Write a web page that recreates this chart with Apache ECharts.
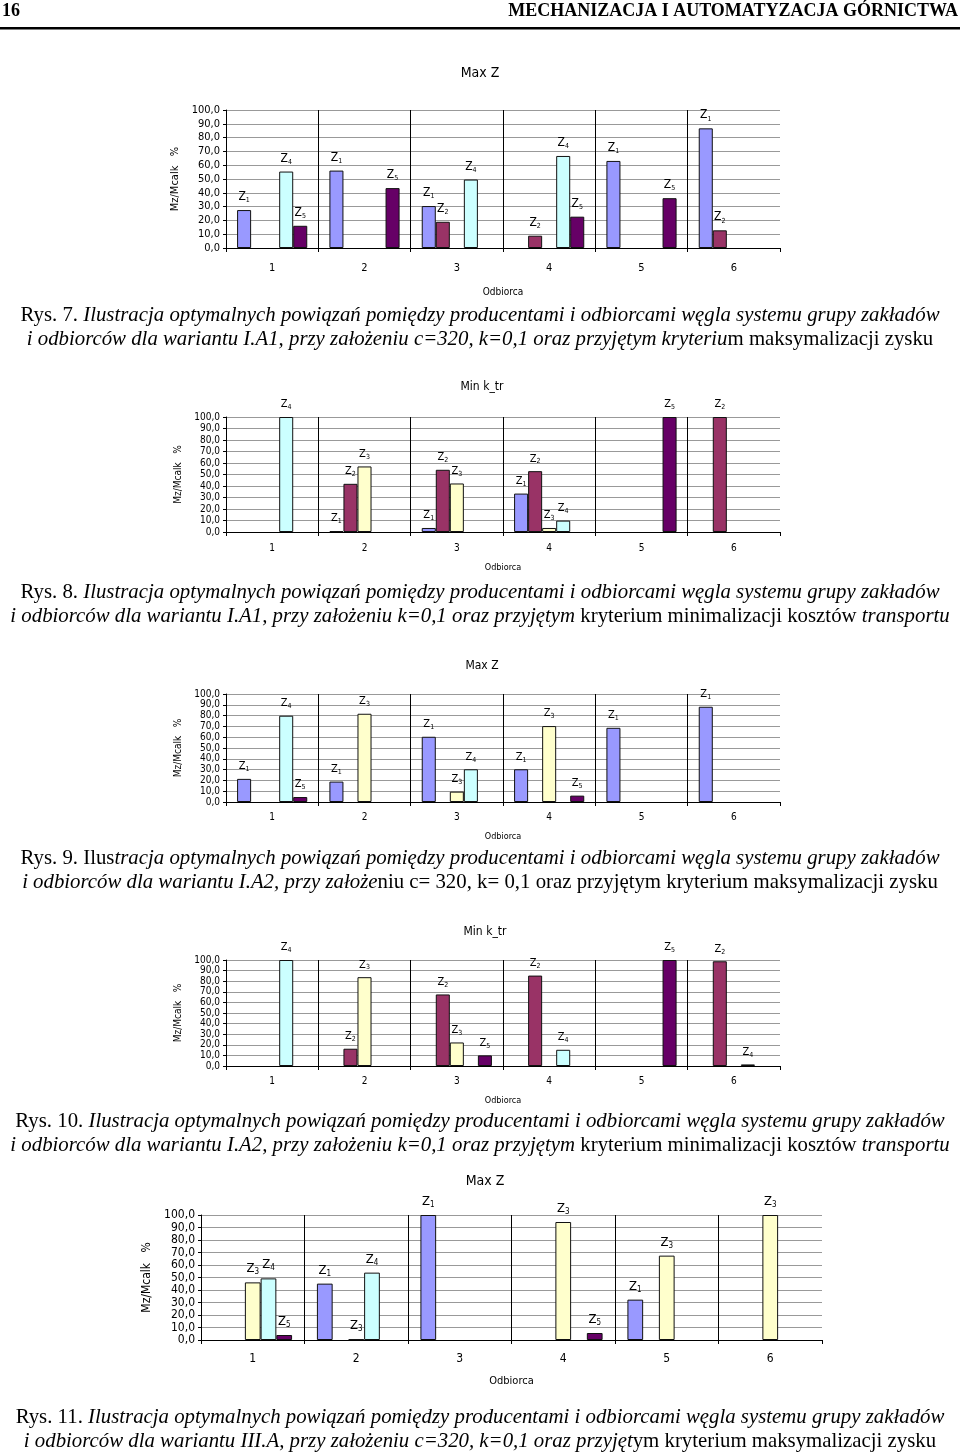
<!DOCTYPE html>
<html>
<head>
<meta charset="utf-8">
<script src="https://cdn.jsdelivr.net/npm/echarts@6/dist/echarts.min.js"></script>
<style>
html,body{margin:0;padding:0;background:#fff;}
#main{width:960px;height:1455px;}
</style>
</head>
<body>
<div id="main"></div>
<script>
// ---------- DATA ----------
const categories = ['1', '2', '3', '4', '5', '6'];
const seriesNames = ['1', '2', '3', '4', '5']; // producers Z1..Z5
const yTicks = { min: 0, max: 100, interval: 10 };

// Rys. 7 — Max Z (I.A1, c=320, k=0,1)
const r7_z1 = [27.5, 56.1, 30.4, null, 63.1, 86.7];
const r7_z2 = [null, null, 19.0, 8.9, null, 12.8];
const r7_z3 = [null, null, null, null, null, null];
const r7_z4 = [55.4, null, 49.6, 66.7, null, null];
const r7_z5 = [16.1, 43.4, null, 22.7, 36.1, null];

// Rys. 8 — Min k_tr (I.A1, k=0,1)
const r8_z1 = [null, 0.8, 3.5, 33.4, null, null];
const r8_z2 = [null, 41.9, 54.1, 52.9, null, 100];
const r8_z3 = [null, 57.0, 42.2, 3.5, null, null];
const r8_z4 = [100, null, null, 9.9, null, null];
const r8_z5 = [null, null, null, null, 100, null];

// Rys. 9 — Max Z (I.A2, c=320, k=0,1)
const r9_z1 = [21.4, 18.9, 60.4, 30.3, 68.7, 88.2];
const r9_z2 = [null, null, null, null, null, null];
const r9_z3 = [null, 81.7, 9.6, 70.3, null, null];
const r9_z4 = [79.9, null, 30.3, null, null, null];
const r9_z5 = [4.6, null, null, 5.9, null, null];

// Rys. 10 — Min k_tr (I.A2, k=0,1)
const r10_z1 = [null, null, null, null, null, null];
const r10_z2 = [null, 16.3, 67.5, 85.3, null, 98.8];
const r10_z3 = [null, 83.8, 22.2, null, null, null];
const r10_z4 = [100, null, null, 15.3, null, 1.5];
const r10_z5 = [null, null, 10.0, null, 100, null];

// Rys. 11 — Max Z (III.A, c=320, k=0,1)
const r11_z1 = [null, 45.1, 100, null, 32.3, null];
const r11_z2 = [null, null, null, null, null, null];
const r11_z3 = [46.1, 0.5, null, 94.4, 67.5, 100];
const r11_z4 = [49.3, 53.9, null, null, null, null];
const r11_z5 = [4.0, null, null, 5.6, null, null];

const chartTitles = ['Max Z', 'Min k_tr', 'Max Z', 'Min k_tr', 'Max Z'];
const yAxisName = 'Mz/Mcalk   %';
const xAxisName = 'Odbiorca';

// captions: [text, italic?] segments per line
const captions = [
  [[['Rys. 7. ', 0], ['Ilustracja optymalnych powiązań pomiędzy producentami i odbiorcami węgla systemu grupy zakładów', 1]],
   [['i odbiorców dla wariantu I.A1, przy założeniu c=320, k=0,1 oraz przyjętym kryteriu', 1], ['m maksymalizacji zysku', 0]]],
  [[['Rys. 8. ', 0], ['Ilustracja optymalnych powiązań pomiędzy producentami i odbiorcami węgla systemu grupy zakładów', 1]],
   [['i odbiorców dla wariantu I.A1, przy założeniu k=0,1 oraz przyjętym', 1], [' kryterium minimalizacji kosztów ', 0], ['transportu', 1]]],
  [[['Rys. 9. Ilus', 0], ['tracja optymalnych powiązań pomiędzy producentami i odbiorcami węgla systemu grupy zakładów', 1]],
   [['i odbiorców dla wariantu I.A2, przy założe', 1], ['niu c= 320, k= 0,1 oraz przyjętym kryterium maksymalizacji zysku', 0]]],
  [[['Rys. 10. ', 0], ['Ilustracja optymalnych powiązań pomiędzy producentami i odbiorcami węgla systemu grupy zakładów', 1]],
   [['i odbiorców dla wariantu I.A2, przy założeniu k=0,1 oraz przyjętym', 1], [' kryterium minimalizacji kosztów ', 0], ['transportu', 1]]],
  [[['Rys. 11. ', 0], ['Ilustracja optymalnych powiązań pomiędzy producentami i odbiorcami węgla systemu grupy zakładów', 1]],
   [['i odbiorców dla wariantu III.A, przy założeniu c=320, k=0,1 oraz przyjęt', 1], ['ym kryterium maksymalizacji zysku', 0]]]
];
const headerLeft = '16';
const headerRight = 'MECHANIZACJA I AUTOMATYZACJA GÓRNICTWA';

const chartData = [
  [r7_z1, r7_z2, r7_z3, r7_z4, r7_z5],
  [r8_z1, r8_z2, r8_z3, r8_z4, r8_z5],
  [r9_z1, r9_z2, r9_z3, r9_z4, r9_z5],
  [r10_z1, r10_z2, r10_z3, r10_z4, r10_z5],
  [r11_z1, r11_z2, r11_z3, r11_z4, r11_z5]
];

// ---------- STYLE / LAYOUT ----------
const colors = ['#9999FF', '#993366', '#FFFFCC', '#CCFFFF', '#660066'];
const SANS = "'Liberation Sans Narrow','DejaVu Sans Condensed','Liberation Sans',Arial,sans-serif";
const SERIF = "'Liberation Serif','DejaVu Serif',serif";

const layouts = [
  { left: 226, top: 110, width: 554, height: 138, titleX: 475, titleY: 70, tSize: 14, fs: 11, sub: 7, yGap: 34, xGap: 39, xMargin: 15, capY: [315, 339] },
  { left: 226, top: 417, width: 554, height: 115, titleX: 477, titleY: 384, tSize: 12, fs: 10, sub: 7, yGap: 34, xGap: 31, xMargin: 11, capY: [592, 616] },
  { left: 226, top: 694, width: 554, height: 108, titleX: 477, titleY: 663, tSize: 12, fs: 10, sub: 7, yGap: 34, xGap: 30, xMargin: 10, capY: [858, 882] },
  { left: 226, top: 960, width: 554, height: 106, titleX: 480, titleY: 929, tSize: 12, fs: 10, sub: 7, yGap: 34, xGap: 30, xMargin: 10, capY: [1121, 1145] },
  { left: 201, top: 1215, width: 621, height: 125, titleX: 480, titleY: 1178, tSize: 14, fs: 12, sub: 8, yGap: 44, xGap: 36, xMargin: 13, capY: [1417, 1441] }
];

const option = {
  animation: false,
  backgroundColor: '#fff',
  title: [], grid: [], xAxis: [], yAxis: [], series: [], graphic: []
};

layouts.forEach((L, ci) => {
  option.title.push({
    text: chartTitles[ci], left: L.titleX, top: L.titleY - L.tSize / 2 - 2, textAlign: 'center',
    textStyle: { fontFamily: SANS, fontSize: L.tSize, fontWeight: 'normal', color: '#000' }
  });
  option.grid.push({ left: L.left, top: L.top, width: L.width, height: L.height, containLabel: false });
  option.xAxis.push({
    type: 'category', gridIndex: ci, data: categories,
    name: xAxisName, nameLocation: 'middle', nameGap: L.xGap,
    nameTextStyle: { fontFamily: SANS, fontSize: L.fs - 1, color: '#000' },
    axisLine: { show: true, lineStyle: { color: '#000', width: 1 } },
    axisTick: { show: true, length: 4, lineStyle: { color: '#000' } },
    axisLabel: { fontFamily: SANS, fontSize: L.fs, color: '#000', margin: L.xMargin },
    splitLine: { show: true, showMinLine: false, showMaxLine: false, lineStyle: { color: '#000', width: 1 } }
  });
  option.yAxis.push({
    type: 'value', gridIndex: ci, min: yTicks.min, max: yTicks.max, interval: yTicks.interval,
    name: yAxisName, nameLocation: 'middle', nameRotate: 90, nameGap: L.yGap,
    nameTextStyle: { fontFamily: SANS, fontSize: L.fs, color: '#000' },
    axisLine: { show: true, lineStyle: { color: '#000', width: 1 } },
    axisTick: { show: true, length: 3, lineStyle: { color: '#000' } },
    axisLabel: { fontFamily: SANS, fontSize: L.fs, color: '#000', margin: 6,
      formatter: v => v.toFixed(1).replace('.', ',') },
    splitLine: { show: true, lineStyle: { color: '#999', width: 1 } }
  });
  chartData[ci].forEach((vals, si) => {
    option.series.push({
      type: 'bar', name: 'Z' + seriesNames[si], xAxisIndex: ci, yAxisIndex: ci,
      data: vals, barGap: '0%', barCategoryGap: '24%',
      itemStyle: { color: colors[si], borderColor: '#111', borderWidth: 1 },
      label: {
        show: true, position: 'top', distance: 6,
        formatter: p => (p.value == null ? '' : '{z|Z}{s|' + seriesNames[si] + '}'),
        rich: {
          z: { fontFamily: SANS, fontSize: L.fs + 1, color: '#000', lineHeight: L.fs + 3 },
          s: { fontFamily: SANS, fontSize: L.sub, color: '#000', verticalAlign: 'bottom', lineHeight: L.fs + 3, padding: [4, 0, 0, 0] }
        }
      }
    });
  });
  // caption
  captions[ci].forEach((line, li) => {
    const txt = line.map(seg => '{' + (seg[1] ? 'i' : 'n') + '|' + seg[0] + '}').join('');
    option.graphic.push({
      type: 'text', x: 480, y: L.capY[li], scaleX: 0.946,
      style: {
        text: txt, align: 'center', verticalAlign: 'middle',
        rich: {
          n: { fontFamily: SERIF, fontSize: 22, fontStyle: 'normal', fill: '#000' },
          i: { fontFamily: SERIF, fontSize: 22, fontStyle: 'italic', fill: '#000' }
        }
      }
    });
  });
});

// header
option.graphic.push(
  { type: 'text', x: 2, y: 11, style: { text: headerLeft, fontFamily: SERIF, fontSize: 18, fontWeight: 'bold', fill: '#000', align: 'left', verticalAlign: 'middle' } },
  { type: 'text', x: 958, y: 11, scaleX: 1.0, style: { text: headerRight, fontFamily: SERIF, fontSize: 18, fontWeight: 'bold', fill: '#000', align: 'right', verticalAlign: 'middle' } },
  { type: 'rect', shape: { x: 0, y: 27, width: 960, height: 2.5 }, style: { fill: '#000' } }
);

const chart = echarts.init(document.getElementById('main'), null, { renderer: 'canvas' });
chart.setOption(option);
</script>
</body>
</html>
